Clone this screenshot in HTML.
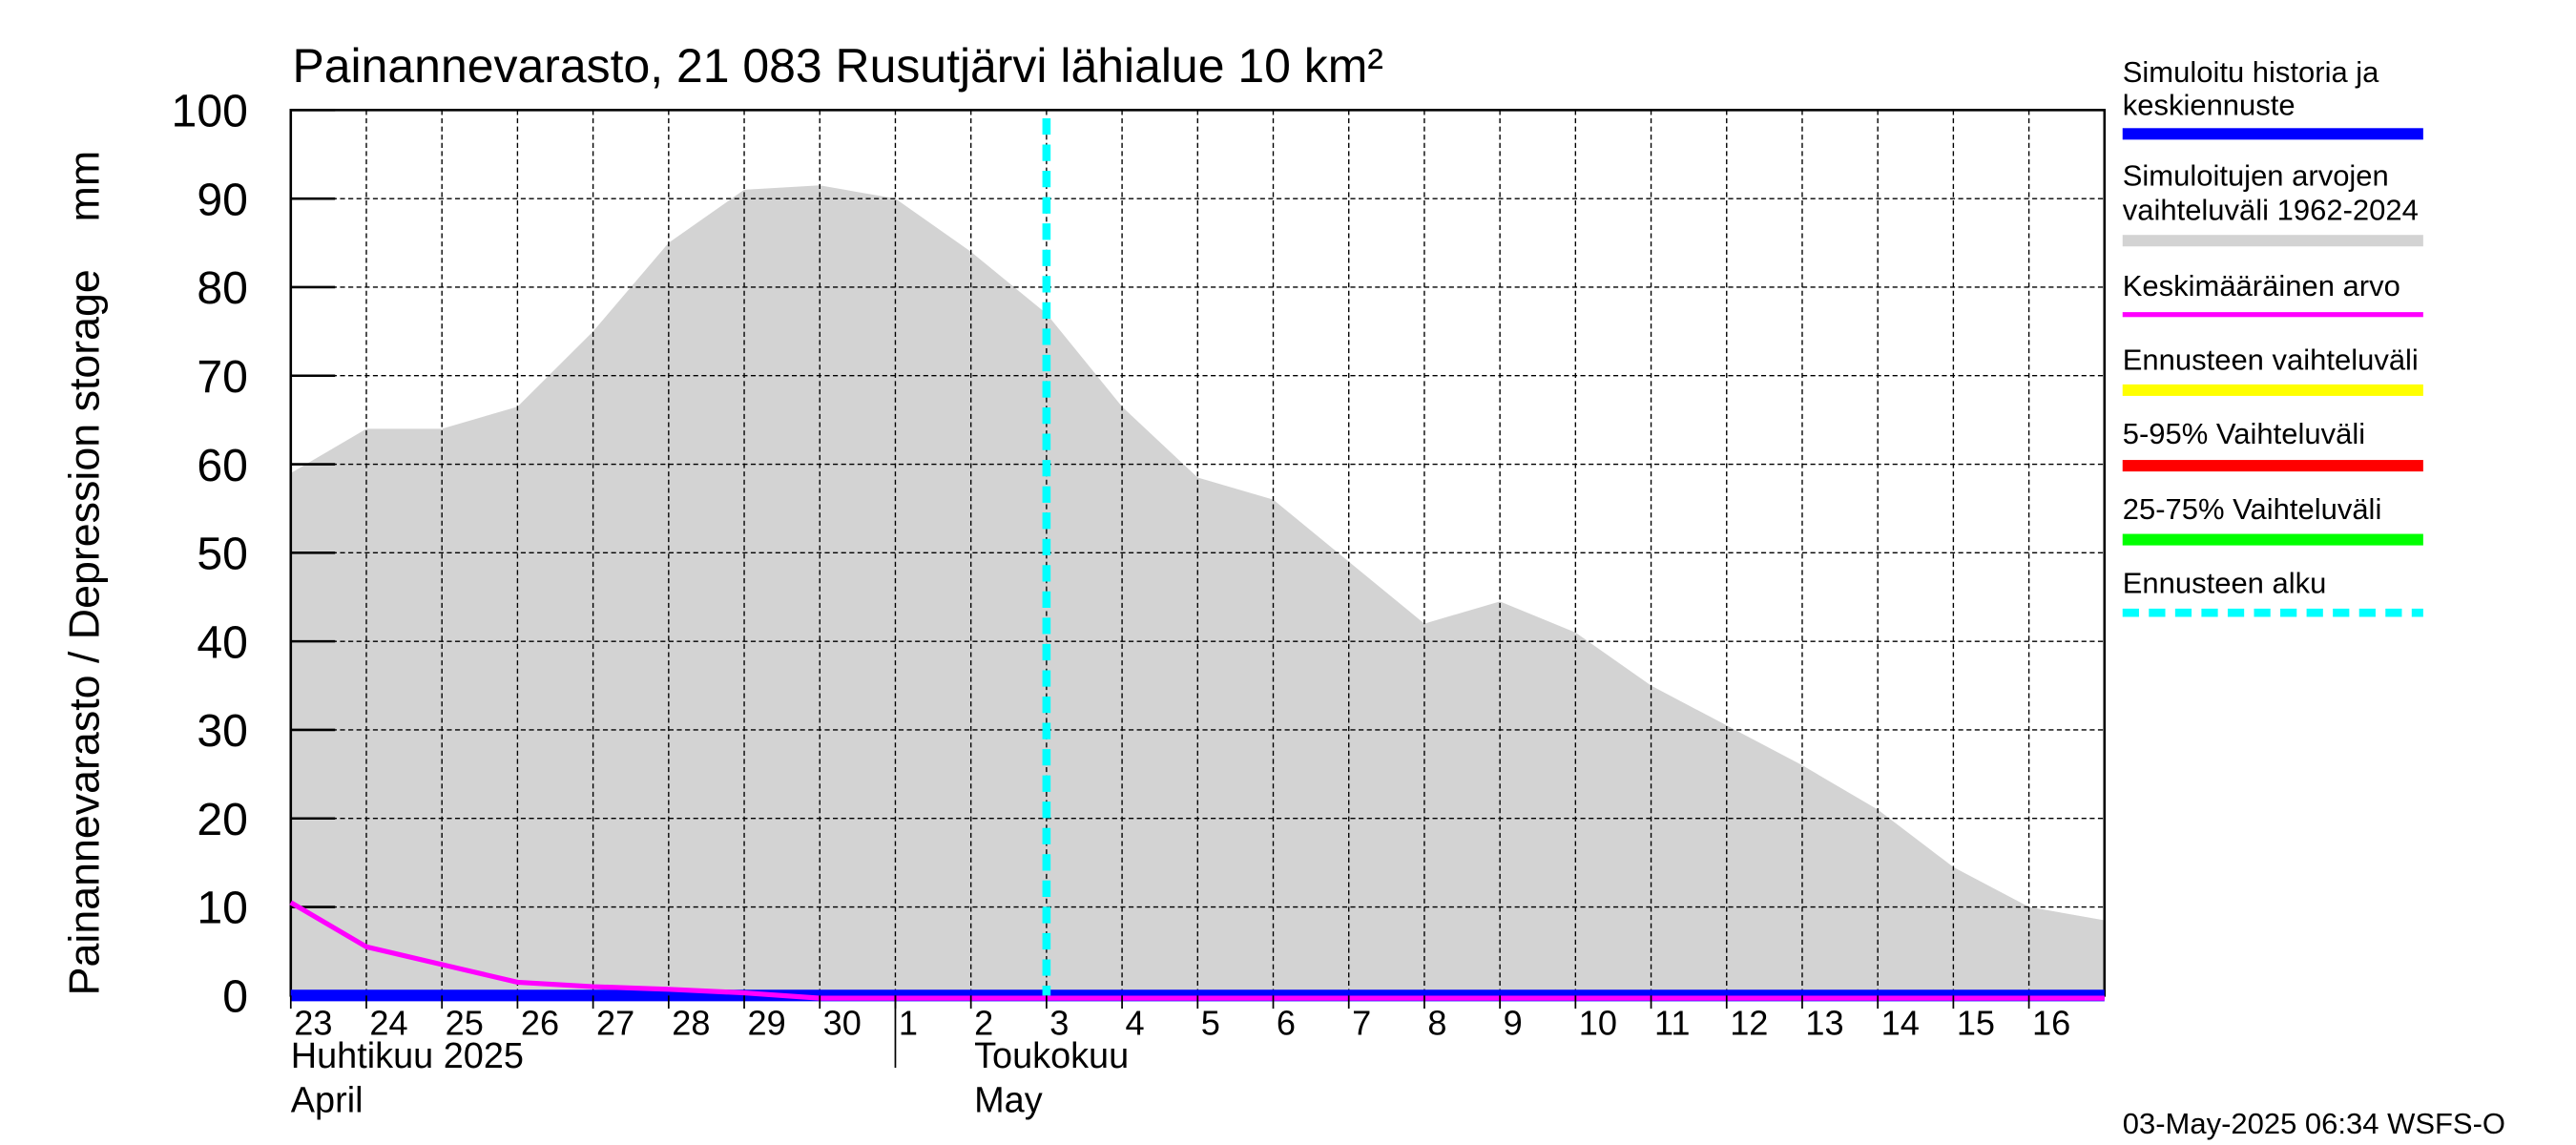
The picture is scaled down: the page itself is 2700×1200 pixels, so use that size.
<!DOCTYPE html>
<html><head><meta charset="utf-8"><style>html,body{margin:0;padding:0;background:#fff}svg{display:block}</style></head>
<body>
<svg id="chart" width="2700" height="1200" viewBox="0 0 1568 697" preserveAspectRatio="none" xmlns="http://www.w3.org/2000/svg" font-family="Liberation Sans, sans-serif">
<rect width="1568" height="697" fill="#fff"/>
<g id="plot"></g>
<text x="178" y="50" font-size="29">Painannevarasto, 21 083 Rusutjärvi lähialue 10 km²</text>
<text transform="translate(60,606) rotate(-90)" font-size="26" xml:space="preserve">Painannevarasto / Depression storage    mm</text>
<g font-size="18">
<text x="1292" y="50">Simuloitu historia ja</text><text x="1292" y="70">keskiennuste</text>
<rect x="1292" y="78" width="183" height="7" fill="#0000ff"/>
<text x="1292" y="113">Simuloitujen arvojen</text><text x="1292" y="134">vaihteluväli 1962-2024</text>
<rect x="1292" y="143" width="183" height="7" fill="#d3d3d3"/>
<text x="1292" y="180">Keskimääräinen arvo</text>
<rect x="1292" y="190" width="183" height="3" fill="#ff00ff"/>
<text x="1292" y="225">Ennusteen vaihteluväli</text>
<rect x="1292" y="234" width="183" height="7" fill="#ffff00"/>
<text x="1292" y="270">5-95% Vaihteluväli</text>
<rect x="1292" y="280" width="183" height="7" fill="#ff0000"/>
<text x="1292" y="316">25-75% Vaihteluväli</text>
<rect x="1292" y="325" width="183" height="7" fill="#00ff00"/>
<text x="1292" y="361">Ennusteen alku</text>
<line x1="1292" y1="373" x2="1475" y2="373" stroke="#00ffff" stroke-width="5" stroke-dasharray="10,6"/>
</g>
<text x="1292" y="690" font-size="18">03-May-2025 06:34 WSFS-O</text>
</svg>
<script>
const dayLabels=["23","24","25","26","27","28","29","30","1","2","3","4","5","6","7","8","9","10","11","12","13","14","15","16"];
const rangeMax=[59,64,64,66.5,75,85,91,91.5,90,84,77,66.5,58.5,56,49,42,44.5,41,35,30.5,26,21,14.5,10,8.5];
const meanVals=[10.5,5.5,3.5,1.5,1,0.7,0.3,-0.3,-0.3,-0.3,-0.3,-0.3,-0.3,-0.3,-0.3,-0.3,-0.3,-0.3,-0.3,-0.3,-0.3,-0.3,-0.3,-0.3,-0.3];
const simVals=[0,0,0,0,0,0,0,0,0,0,0,0,0,0,0,0,0,0,0,0,0,0,0,0,0];
const yTicks=[0,10,20,30,40,50,60,70,80,90,100];
const forecastStart=10;
const NS="http://www.w3.org/2000/svg";
const L=177,R=1281,T=67,B=606;
const xs=i=>L+(R-L)*i/24, ys=v=>B-(B-T)*v/100;
const g=document.getElementById('plot');
function mk(t,a){const e=document.createElementNS(NS,t);for(const k in a)e.setAttribute(k,a[k]);g.appendChild(e);return e;}
let d="M"+xs(0)+","+ys(0);rangeMax.forEach((v,i)=>d+=" L"+xs(i)+","+ys(v));d+=" L"+xs(rangeMax.length-1)+","+ys(0)+"Z";
let e=mk('path',{d:d,fill:'#d3d3d3'});


for(let i=1;i<24;i++){e=mk('line',{x1:xs(i),x2:xs(i),y1:T,y2:B,stroke:'#000','stroke-width':0.8,'stroke-dasharray':'3,2'});

}
yTicks.forEach(v=>{if(v>0&&v<100){e=mk('line',{x1:L,x2:R,y1:ys(v),y2:ys(v),stroke:'#000','stroke-width':0.8,'stroke-dasharray':'3,2'});

}
mk('line',{x1:L,x2:L+27,y1:ys(v),y2:ys(v),stroke:'#000','stroke-width':1.5});
e=mk('text',{x:L-26,y:ys(v)+10,'font-size':28,'text-anchor':'end'});e.textContent=v;

});
e=mk('rect',{x:L,y:T,width:R-L,height:B-T,fill:'none',stroke:'#000','stroke-width':1.5});


e=mk('polyline',{points:simVals.map((v,i)=>xs(i)+","+ys(v)).join(" "),fill:'none',stroke:'#0000ff','stroke-width':7});


e=mk('polyline',{points:meanVals.map((v,i)=>xs(i)+","+ys(v)).join(" "),fill:'none',stroke:'#ff00ff','stroke-width':3});


e=mk('line',{x1:xs(forecastStart),x2:xs(forecastStart),y1:T+5,y2:B,stroke:'#00ffff','stroke-width':5,'stroke-dasharray':'10,6'});


dayLabels.forEach((l,i)=>{mk('line',{x1:xs(i),x2:xs(i),y1:B,y2:B+8,stroke:'#000'});
e=mk('text',{x:xs(i)+2,y:B+24,'font-size':21});e.textContent=l;

});
mk('line',{x1:xs(8),x2:xs(8),y1:B,y2:650,stroke:'#000'});
[["Huhtikuu  2025",L,650],["April",L,677],["Toukokuu",xs(9)+2,650],["May",xs(9)+2,677]].forEach(a=>{e=mk('text',{x:a[1],y:a[2],'font-size':22});e.setAttribute('xml:space','preserve');e.textContent=a[0];

});
</script>
</body></html>
